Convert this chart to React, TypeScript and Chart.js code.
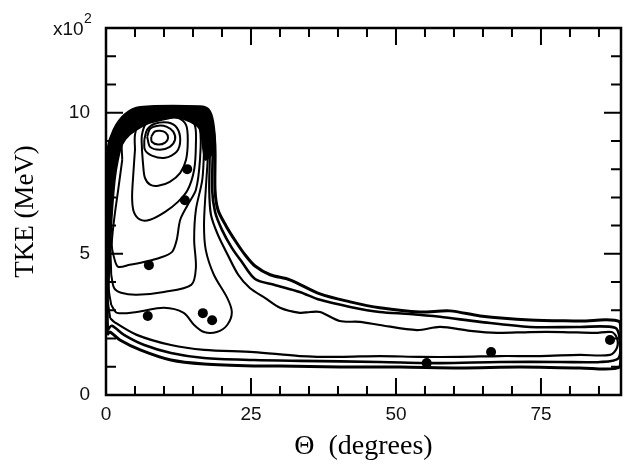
import React, { useEffect, useRef } from 'react';
import { Chart, registerables } from 'chart.js';

Chart.register(...registerables);

type P = [number, number];

// Θ (degrees), TKE (x10^2 MeV)
const thetaTickLabels = [0, 25, 50, 75];
const tkeTickLabels = [0, 5, 10];

const contourPeak1: P[] = [[7.8, 9.15], [8.4, 9.33], [9.3, 9.36], [10.3, 9.29], [10.7, 9.11], [10.2, 8.94], [9.0, 8.87], [7.9, 8.97], [7.8, 9.15]];
const contourPeak2: P[] = [[7.1, 9.15], [7.6, 9.43], [9.0, 9.54], [10.5, 9.5], [11.6, 9.33], [11.9, 9.04], [11.0, 8.79], [9.3, 8.69], [7.6, 8.79], [7.1, 9.15]];
const contourPeak3: P[] = [[6.6, 9.04], [7.1, 9.4], [8.4, 9.61], [10.7, 9.65], [12.2, 9.47], [12.8, 9.04], [12.2, 8.62], [10.2, 8.4], [7.9, 8.48], [6.7, 8.69], [6.6, 9.04]];
const contour4: P[] = [[6.2, 8.69], [6.4, 8.16], [6.7, 7.7], [7.6, 7.45], [9.0, 7.41], [11.0, 7.55], [12.8, 7.87], [13.8, 8.33], [14.1, 9.04], [13.8, 9.57], [12.4, 9.82], [9.3, 9.86], [7.1, 9.68], [6.2, 9.22], [6.2, 8.69]];
const contour5: P[] = [[5.0, 8.69], [4.7, 7.8], [4.5, 6.99], [4.8, 6.49], [5.9, 6.21], [7.6, 6.21], [10.2, 6.49], [12.4, 6.84], [14.1, 7.27], [15.2, 7.98], [15.5, 8.87], [15.3, 9.57], [13.6, 9.89], [9.3, 9.93], [5.9, 9.75], [5.0, 9.22], [5.0, 8.69]];
const contour6: P[] = [[2.8, 8.33], [2.1, 7.27], [1.4, 6.21], [1.0, 5.32], [1.4, 4.86], [2.1, 4.54], [4.1, 4.61], [6.7, 4.72], [9.3, 4.86], [11.4, 5.07], [12.2, 5.5], [12.8, 6.21], [14.1, 6.74], [15.5, 7.27], [16.2, 8.33], [16.2, 9.4], [14.8, 9.82], [9.3, 9.96], [4.5, 9.75], [2.8, 9.04], [2.8, 8.33]];
const contour7: P[] = [[0.9, 4.26], [1.4, 3.79], [2.6, 3.62], [5.3, 3.55], [10.0, 3.65], [14.7, 3.9], [15.5, 4.5], [15.2, 5.5], [15.5, 6.56], [16.6, 7.62], [16.9, 8.69], [16.9, 9.57], [15.3, 9.93], [9.3, 10.0], [3.8, 9.82], [1.7, 9.04], [1.0, 7.62], [0.7, 5.85], [0.9, 4.26]];
const contour8: P[] = [[0.9, 3.19], [1.9, 2.91], [5.3, 2.94], [10.0, 3.09], [13.4, 2.91], [15.2, 2.48], [16.9, 2.23], [19.1, 2.23], [20.9, 2.48], [21.7, 2.94], [20.9, 3.44], [18.6, 4.26], [17.2, 5.14], [16.9, 6.03], [17.2, 7.27], [17.6, 8.69], [17.4, 9.57], [16.2, 10.0], [9.3, 10.07], [3.3, 9.86], [1.2, 9.04], [0.5, 7.62], [0.3, 5.5], [0.5, 3.72], [0.9, 3.19]];
const contourTail3: P[] = [[0.7, 2.73], [0.3, 3.37], [0.2, 5.5], [0.2, 7.62], [0.7, 8.87], [2.1, 9.57], [4.1, 10.0], [9.3, 10.11], [16.7, 10.07], [17.6, 9.75], [17.9, 8.69], [17.8, 7.27], [18.1, 6.38], [19.3, 5.67], [21.0, 4.96], [22.8, 4.26], [24.8, 3.79], [27.4, 3.44], [30.0, 3.09], [33.4, 2.91], [35.2, 2.94], [36.9, 2.94], [40.3, 2.62], [43.8, 2.59], [47.2, 2.48], [53.6, 2.3], [57.6, 2.41], [62.8, 2.27], [67.4, 2.2], [73.1, 2.23], [78.8, 2.23], [84.3, 2.2], [87.2, 2.23], [88.1, 2.02], [88.1, 1.67], [86.9, 1.42], [81.7, 1.42], [74.8, 1.38], [67.9, 1.38], [61.0, 1.35], [54.1, 1.35], [47.2, 1.38], [40.3, 1.35], [33.4, 1.38], [25.5, 1.52], [16.9, 1.6], [11.2, 1.77], [5.3, 2.13], [1.4, 2.59], [0.7, 2.73]];
const contourTail2: P[] = [[0.3, 2.3], [0.1, 3.72], [0.1, 6.91], [0.5, 8.69], [1.7, 9.4], [3.8, 9.93], [7.6, 10.14], [17.1, 10.14], [18.1, 9.75], [18.4, 8.69], [18.3, 7.27], [18.8, 6.49], [20.0, 5.85], [21.7, 5.21], [23.4, 4.72], [25.7, 4.11], [29.1, 3.9], [33.4, 3.65], [36.9, 3.37], [42.1, 3.12], [47.2, 2.94], [52.4, 2.87], [57.6, 2.77], [64.5, 2.59], [73.1, 2.41], [81.7, 2.41], [87.8, 2.38], [88.6, 1.95], [88.4, 1.31], [85.2, 1.17], [78.3, 1.17], [67.9, 1.17], [57.6, 1.13], [47.2, 1.17], [33.4, 1.21], [25.5, 1.24], [16.9, 1.31], [11.2, 1.49], [6.6, 1.77], [3.1, 2.13], [1.0, 2.45], [0.3, 2.3]];
const contourTail1: P[] = [[0.2, 2.13], [0.05, 4.43], [0.05, 7.62], [0.3, 8.69], [1.4, 9.4], [3.3, 9.93], [5.9, 10.18], [16.2, 10.21], [17.6, 10.11], [18.4, 9.68], [18.8, 8.69], [18.8, 7.27], [19.3, 6.56], [20.7, 5.99], [22.4, 5.43], [24.0, 4.96], [25.7, 4.57], [28.3, 4.26], [31.7, 4.08], [36.9, 3.58], [42.1, 3.3], [47.2, 3.09], [54.1, 2.94], [59.3, 2.98], [64.5, 2.8], [73.1, 2.66], [81.7, 2.62], [88.6, 2.59], [88.8, 1.77], [88.6, 0.99], [81.7, 0.96], [71.4, 0.99], [61.0, 0.96], [50.7, 0.99], [40.3, 0.99], [30.0, 1.03], [25.5, 1.03], [16.9, 1.1], [11.2, 1.24], [5.9, 1.6], [2.4, 1.95], [0.7, 2.23], [0.2, 2.13]];
// dense (black) rim of crowded contours near the top of the ridge
const denseRim: P[] = [[0.05, 7.6], [0.3, 8.69], [1.4, 9.4], [3.3, 9.93], [5.9, 10.18], [16.2, 10.21], [17.6, 10.11], [18.4, 9.68], [18.8, 8.69], [17.1, 8.33], [16.2, 9.4], [14.5, 9.68], [11.9, 9.82], [9.3, 9.72], [7.2, 9.61], [5.9, 9.47], [4.1, 9.22], [2.8, 8.87], [2.1, 8.33], [1.55, 7.62], [1.0, 6.21], [0.7, 4.79], [0.3, 3.37], [0.05, 3.37], [0.05, 7.6]];
const dots: P[] = [[7.4, 4.6], [7.2, 2.8], [16.7, 2.9], [18.3, 2.65], [14.0, 8.0], [13.6, 6.9], [55.3, 1.13], [66.4, 1.52], [86.9, 1.95]];

const contours: { pts: P[]; w: number }[] = [
  { pts: contourPeak1, w: 2 },
  { pts: contourPeak2, w: 2 },
  { pts: contourPeak3, w: 2 },
  { pts: contour4, w: 2 },
  { pts: contour5, w: 2 },
  { pts: contour6, w: 2 },
  { pts: contour7, w: 2 },
  { pts: contour8, w: 2 },
  { pts: contourTail3, w: 2.2 },
  { pts: contourTail2, w: 2.6 },
  { pts: contourTail1, w: 3 },
];

const toXY = (a: P[]) => a.map(([x, y]) => ({ x, y }));

const framePlugin = {
  id: 'frame',
  afterDraw(chart: any) {
    const { ctx, chartArea: a, scales } = chart;
    const xs = scales.x;
    const ys = scales.y;
    ctx.save();
    ctx.strokeStyle = '#000';
    ctx.lineWidth = 2.5;
    ctx.strokeRect(a.left, a.top, a.right - a.left, a.bottom - a.top);
    ctx.lineWidth = 2;
    ctx.beginPath();
    xs.ticks.forEach((t: any) => {
      const v = t.value;
      if (Math.abs(v % 5) > 1e-6) return;
      const px = xs.getPixelForValue(v);
      const len = v % 25 === 0 ? 17 : 9;
      ctx.moveTo(px, a.bottom);
      ctx.lineTo(px, a.bottom - len);
      ctx.moveTo(px, a.top);
      ctx.lineTo(px, a.top + len);
    });
    ys.ticks.forEach((t: any) => {
      const v = t.value;
      const py = ys.getPixelForValue(v);
      const len = v % 5 === 0 ? 17 : 10;
      ctx.moveTo(a.left, py);
      ctx.lineTo(a.left + len, py);
      ctx.moveTo(a.right, py);
      ctx.lineTo(a.right - len, py);
    });
    ctx.stroke();
    ctx.fillStyle = '#111';
    ctx.textBaseline = 'alphabetic';
    ctx.textAlign = 'left';
    ctx.font = '19px "Liberation Sans", Arial, sans-serif';
    ctx.fillText('x10', 53, 35);
    ctx.font = '14px "Liberation Sans", Arial, sans-serif';
    ctx.fillText('2', 84, 23);
    ctx.restore();
  },
};

export default function App() {
  const ref = useRef<HTMLCanvasElement | null>(null);
  useEffect(() => {
    if (!ref.current) return;
    const datasets: any[] = [];
    datasets.push({
      data: toXY(dots),
      showLine: false,
      pointRadius: 5,
      pointBackgroundColor: '#000',
      pointBorderColor: '#000',
      pointBorderWidth: 0,
    });
    contours.forEach((c) => {
      datasets.push({
        data: toXY(c.pts),
        showLine: true,
        borderColor: '#000',
        borderWidth: c.w,
        pointRadius: 0,
        tension: 0.3,
        fill: false,
      });
    });
    datasets.push({
      data: toXY(denseRim),
      showLine: true,
      borderColor: '#000',
      borderWidth: 1.5,
      backgroundColor: '#000',
      pointRadius: 0,
      tension: 0.25,
      fill: 'shape',
    });
    const chart = new Chart(ref.current, {
      type: 'scatter',
      data: { datasets },
      options: {
        animation: false,
        responsive: false,
        events: [],
        layout: { padding: { top: 28, right: 9, left: 0, bottom: 0 } },
        plugins: { legend: { display: false }, tooltip: { enabled: false } },
        scales: {
          x: {
            type: 'linear',
            min: 0,
            max: 88.8,
            afterFit: (s: any) => { s.height = 74; },
            grid: { display: false, drawTicks: false },
            border: { display: false },
            ticks: {
              stepSize: 5,
              includeBounds: false,
              autoSkip: false,
              maxRotation: 0,
              padding: 8,
              color: '#111',
              font: { family: '"Liberation Sans", Arial, sans-serif', size: 19 },
              callback: (v: any) => (thetaTickLabels.includes(Number(v)) ? String(v) : ''),
            },
            title: {
              display: true,
              text: 'Θ  (degrees)',
              color: '#000',
              padding: { top: 6, bottom: 6 },
              font: { family: '"Liberation Serif", "Times New Roman", serif', size: 28 },
            },
          },
          y: {
            type: 'linear',
            min: 0,
            max: 13,
            afterFit: (s: any) => { s.width = 106; },
            grid: { display: false, drawTicks: false },
            border: { display: false },
            ticks: {
              stepSize: 1,
              autoSkip: false,
              padding: 16,
              color: '#111',
              font: { family: '"Liberation Sans", Arial, sans-serif', size: 19 },
              callback: (v: any) => (tkeTickLabels.includes(Number(v)) ? String(v) : ''),
            },
            title: {
              display: true,
              text: 'TKE (MeV)',
              color: '#000',
              padding: { top: 10, bottom: 10 },
              font: { family: '"Liberation Serif", "Times New Roman", serif', size: 27 },
            },
          },
        },
      },
      plugins: [framePlugin],
    } as any);
    return () => chart.destroy();
  }, []);
  return (
    <div style={{ position: 'fixed', left: 0, top: 0, width: 630, height: 469, background: '#fff' }}>
      <canvas ref={ref} width={630} height={469} style={{ display: 'block' }} />
    </div>
  );
}
